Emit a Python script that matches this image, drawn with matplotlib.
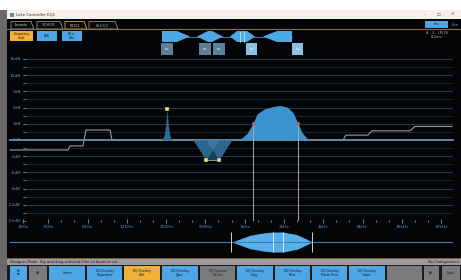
import numpy as np
import matplotlib
matplotlib.use("Agg")
import matplotlib.pyplot as plt
from matplotlib.patches import Rectangle, Polygon
from matplotlib.ticker import NullFormatter

W, H = 461, 280

# axis ticks
gain_ticks = [15, 12, 9, 6, 3, 0, -3, -6, -9, -12, -15]
freq_ticks = [20, 31.25, 62.5, 125, 250, 500, 1000, 2000, 4000, 8000, 16000, 32000]
freq_labels = ['20Hz', '31Hz', '62Hz', '125Hz', '250Hz', '500Hz', '1kHz', '2kHz',
               '4kHz', '8kHz', '16kHz', '32kHz']

# narrow peak (~250Hz)
peak_freq = [232, 241, 248, 254, 260, 267, 277]
peak_gain = [0, 0.8, 2.7, 5.7, 2.7, 0.8, 0]

# two overlapping cuts (~500Hz / ~640Hz)
cut1_freq = [402, 505, 632]
cut1_gain = [0, -3.7, 0]
cut2_freq = [508, 636, 795]
cut2_gain = [0, -3.7, 0]

# wide bell (~1.8kHz)
bell_freq = [814, 920, 1042, 1158, 1242, 1406, 1648, 1865, 2110, 2345, 2561, 2749, 3003, 3166]
bell_gain = [0, 0.1, 1.2, 3.1, 4.8, 5.7, 6.2, 6.4, 6.1, 5.1, 3.1, 1.4, 0.3, 0]
bell_handles = [1158, 2561]
bell_handle_gain = [3.1, 3.1]

# grey overlay curve
overlay_freq = [15.9, 44.3, 45.8, 57.6, 60.8, 92.9, 96.2, 5668, 5977, 8810, 9454, 18480, 20200, 38800]
overlay_gain = [-1.85, -1.85, -1.1, -1.1, 1.85, 1.85, 0, 0, 0.9, 0.9, 1.7, 1.7, 2.5, 2.5]

# overview lens in the lower strip
lens_freq = [799, 920, 1098, 1381, 1648, 1966, 2518, 3003, 3280]
lens_half = [0, 3, 6.7, 9, 10, 10, 7.3, 2.7, 0]
lens_edges = [785, 3300]
lens_inner = [1648, 1966]

fig = plt.figure(figsize=(W / 100, H / 100), dpi=100, facecolor='white')

# background axes in pixel units for the window chrome
bg = fig.add_axes([0, 0, 1, 1])
bg.set_xlim(0, W)
bg.set_ylim(H, 0)
bg.axis('off')


def rect(x0, y0, x1, y1, color, ec='none', lw=0.5):
    bg.add_patch(Rectangle((x0, y0), x1 - x0, y1 - y0, facecolor=color, edgecolor=ec, lw=lw))


def button(x0, x1, y0, y1, color, label, tc='#10202c', fs=2.5):
    rect(x0, y0, x1, y1, color)
    if label:
        bg.text((x0 + x1) / 2, (y0 + y1) / 2, label, ha='center', va='center',
                fontsize=fs, color=tc, linespacing=0.95)


# window frame
rect(0, 10, 7, H, '#6a6a6a')
rect(7, 10, W, 19, '#f4f1e8')
rect(10, 12.5, 14, 16.5, '#4a8fd0')
bg.text(16, 14.7, 'Lake Controller EQ1', fontsize=2.8, color='#333333', va='center')
bg.text(425, 14.7, '–', fontsize=3, color='#555555', va='center', ha='center')
bg.text(438, 14.7, '☐', fontsize=3, color='#555555', va='center', ha='center')
bg.text(452, 14.7, '✕', fontsize=3, color='#333333', va='center', ha='center')
rect(7, 19, W, H, '#040507')

# tabs
bg.plot([7, W], [29, 29], color='#8a7048', lw=0.8)
tabs = [(11, 34, 'Levels', '#8c8c8c', '#d8d8d8'), (37, 63, 'XOVER', '#8c8c8c', '#a8a8a8'),
        (65, 87, 'PEQ1', '#c9a466', '#e6c98c'), (89, 118, 'BLEQ2', '#8c8c8c', '#7f9fc0')]
for x0, x1, name, ec, tc in tabs:
    bg.add_patch(Polygon([(x0, 29), (x0, 21.5), (x1 - 3, 21.5), (x1, 29)], closed=True,
                         fc='#0a0a0a', ec=ec, lw=0.6))
    bg.text((x0 + x1 - 3) / 2, 25.5, name, fontsize=2.9, color=tc, ha='center', va='center')

button(10, 33, 31, 41, '#f0b13a', 'Frequency\nLock', tc='#2a1a00', fs=2.3)
button(37, 57, 31, 41, '#4ea6e4', 'A/B')
button(62, 82, 31, 41, '#4ea6e4', 'Filter\nEdit', fs=2.3)
button(425, 448, 21, 27.5, '#4ea6e4', 'Pro')
bg.text(452, 24.5, 'Lite', fontsize=2.8, color='#4ea6e4', va='center')
bg.text(437, 32.5, 'A - 3 - LM 26', fontsize=2.5, color='#b0b0b0', ha='center', va='center')
bg.text(437, 37.5, '(12ms)', fontsize=2.5, color='#b0b0b0', ha='center', va='center')

# filter overlay toolbar
icon_c = '#4fa8e6'
bg.plot([162, 292], [36.5, 36.5], color=icon_c, lw=0.5)
bg.add_patch(Polygon([(162, 31), (177, 31), (190, 36.5), (177, 42), (162, 42)], closed=True, fc=icon_c, ec='none'))
bg.add_patch(Polygon([(197, 36.5), (208, 31), (212, 31), (223, 36.5), (212, 42), (208, 42)], closed=True, fc=icon_c, ec='none'))
bg.add_patch(Polygon([(230, 36.5), (237, 31), (247, 31), (255, 36.5), (247, 42), (237, 42)], closed=True, fc=icon_c, ec='none'))
bg.plot([240, 240], [31.5, 41.5], color='#dff1ff', lw=0.5)
bg.plot([244, 244], [31.5, 41.5], color='#dff1ff', lw=0.5)
bg.add_patch(Polygon([(263, 36.5), (277, 31), (292, 31), (292, 42), (277, 42)], closed=True, fc=icon_c, ec='none'))
for x0, x1, c in [(161, 173, '#5d7f99'), (199, 211, '#5d7f99'), (213, 225, '#5d7f99'),
                  (246, 257, '#8cc0e4'), (292, 303, '#8cc0e4')]:
    rect(x0, 43, x1, 55, c)
    bg.text((x0 + x1) / 2, 49, 'PEQ\nEQ1', fontsize=1.6, color='white', ha='center', va='center')

# status bar and bottom buttons
bg.plot([7, W], [258, 258], color='#8a7048', lw=0.6)
rect(7, 258.5, W, 265, '#9c9c9c')
bg.text(10, 261.8, 'Designer Mode: Tap and drag selected filter to boost or cut',
        fontsize=2.6, color='#151515', va='center')
bg.text(459, 261.8, 'No Configuration', fontsize=2.6, color='#151515', va='center', ha='right')
rect(7, 265, W, H, '#1c1c1c')
blue, grey, orange = '#4ea6e4', '#7b7b7b', '#f0b13a'
bottom = [(10, 27, blue, '▲\n▼'), (29, 47, grey, 'Alt'), (49, 85, blue, 'Home'),
          (87, 122, blue, 'EQ Overlay\nProperties'), (124, 160, orange, 'EQ Overlay\nEdit'),
          (162, 198, blue, 'EQ Overlay\nType'), (200, 235, grey, 'EQ Overlay\nDelete'),
          (237, 273, blue, 'EQ Overlay\nCopy'), (275, 310, blue, 'EQ Overlay\nNew'),
          (312, 347, blue, 'EQ Overlay\nPaste Over'), (349, 385, blue, 'EQ Overlay\nLabel'),
          (387, 422, grey, ''), (424, 439, grey, 'Alt'), (442, 460, grey, 'Undo')]
for x0, x1, c, lab in bottom:
    button(x0, x1, 266, 280, c, lab, fs=2.3)

# main EQ plot
ax = fig.add_axes([23 / W, 1 - 221 / H, 430 / W, 162 / H])
ax.set_facecolor('#040507')
ax.set_xscale('log')
ax.set_xlim(20, 39500)
ax.set_ylim(-15, 15)
for g in np.arange(-15, 15.1, 1.5):
    ax.axhline(g, color='#2f3745' if g % 3 == 0 else '#1c222d', lw=0.8, zorder=0)

ax.set_yticks(gain_ticks, [f'{g}dB' for g in gain_ticks])
ax.set_yticks(np.arange(-13.5, 15, 3), minor=True)
ax.tick_params(axis='y', which='both', direction='in', length=2, width=0.6, color='#6f8299',
               labelsize=3.2, labelcolor='#5f90c4', pad=1.5)
minor_f = [f * 2 ** (k / 3) for f in freq_ticks[1:] for k in (1, 2)]
ax.set_xticks(freq_ticks, freq_labels)
ax.set_xticks([f for f in minor_f if f < 39500], minor=True)
ax.xaxis.set_minor_formatter(NullFormatter())
ax.tick_params(axis='x', which='major', direction='inout', length=3.5, width=0.6, color='#7f9ab8',
               labelsize=3.2, labelcolor='#5f90c4', pad=1)
ax.tick_params(axis='x', which='minor', direction='inout', length=1.5, width=0.6, color='#7f9ab8')
for s in ax.spines.values():
    s.set_visible(False)

ax.plot(overlay_freq, overlay_gain, color='#9b9b9b', lw=0.8, clip_on=False, zorder=2)
ax.plot([15.9, 39500], [0, 0], color='#6e8aa3', lw=1.3, clip_on=False, zorder=3)

ax.fill_between(bell_freq, bell_gain, 0, color='#3b93d0', lw=0, zorder=4)
ax.fill_between(peak_freq, peak_gain, 0, color='#2d6a95', lw=0, zorder=4)
env_f = cut1_freq[:2] + cut2_freq[1:]
env_g = cut1_gain[:2] + cut2_gain[1:]
ax.fill_between(env_f, env_g, 0, color='#1a3f5a', lw=0, zorder=4)
ax.fill_between(cut1_freq, cut1_gain, 0, color='#4696cd', alpha=0.45, lw=0, zorder=4)
ax.fill_between(cut2_freq, cut2_gain, 0, color='#4696cd', alpha=0.45, lw=0, zorder=4)

ax.plot([cut1_freq[1], cut2_freq[1]], [cut1_gain[1], cut2_gain[1]], color='#c8c8c8', lw=0.5, zorder=6)
ax.vlines(bell_handles, -15, bell_handle_gain, color='#a8a8a8', lw=0.7, zorder=5)
ip = int(np.argmax(peak_gain))
ax.scatter([peak_freq[ip], cut1_freq[1], cut2_freq[1]], [peak_gain[ip], cut1_gain[1], cut2_gain[1]],
           marker='s', s=5, color='#e6e27a', edgecolor='#202020', lw=0.3, zorder=7)
ax.scatter(bell_handles, bell_handle_gain, s=5, color='#e05050', lw=0, zorder=7)

# lower overview strip
lo = fig.add_axes([23 / W, 1 - 258 / H, 430 / W, 30 / H])
lo.set_xscale('log')
lo.set_xlim(20, 39500)
lo.set_ylim(-16, 14)
lo.axis('off')
lo.plot([15.9, 38800], [0, 0], color='#3c7db5', lw=0.8, clip_on=False)
lo.fill_between(lens_freq, [-h for h in lens_half], lens_half, color='#58b0ea', lw=0)
lo.vlines(lens_edges, -10, 10, color='#d0d0d0', lw=0.7)
lo.vlines(lens_inner, -10, 10, color='#e8f4ff', lw=0.6)

fig.savefig('out.png', dpi=100, facecolor=fig.get_facecolor())
